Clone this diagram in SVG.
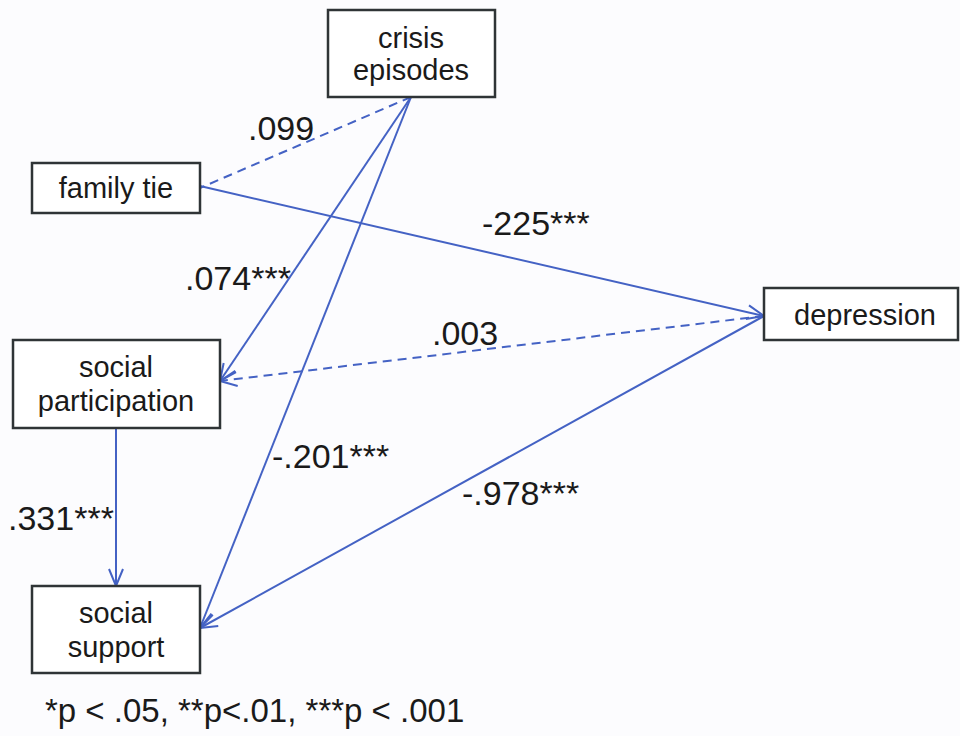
<svg xmlns="http://www.w3.org/2000/svg" width="960" height="736" viewBox="0 0 960 736">
<style>
.box{fill:#ffffff;stroke:#2f3436;stroke-width:2.5}
.nt{font-family:"Liberation Sans",Arial,sans-serif;font-size:29px;fill:#1a1a1a;text-anchor:middle}
.lb{font-family:"Liberation Sans",Arial,sans-serif;font-size:34px;fill:#1a1a1a}
.ln{stroke:#4462c4;stroke-width:2;fill:none}
.dash{stroke-dasharray:9 6}
</style>
<defs>
<marker id="arr" viewBox="0 0 20 20" refX="19" refY="10" markerWidth="20" markerHeight="20" markerUnits="userSpaceOnUse" orient="auto">
<path d="M2,3 L19,10 L2,17" fill="none" stroke="#4462c4" stroke-width="2"/>
</marker>
</defs>
<rect width="960" height="736" fill="#fcfcfe"/>
<g id="connectors">
<line class="ln dash" x1="411" y1="97" x2="200" y2="188"/>
<line class="ln" x1="411" y1="97" x2="220" y2="381" marker-end="url(#arr)"/>
<line class="ln" x1="411" y1="97" x2="200" y2="628" marker-end="url(#arr)"/>
<line class="ln" x1="200" y1="186" x2="764" y2="316" marker-end="url(#arr)"/>
<line class="ln dash" x1="764" y1="316" x2="220" y2="381" marker-end="url(#arr)"/>
<line class="ln" x1="764" y1="316" x2="200" y2="628" marker-end="url(#arr)"/>
<line class="ln" x1="116" y1="428" x2="116" y2="586" marker-end="url(#arr)"/>
</g>
<g id="crisis">
<rect class="box" x="328" y="10" width="167" height="87"/>
<text class="nt" x="411" y="48">crisis</text>
<text class="nt" x="411" y="80">episodes</text>
</g>
<g id="family">
<rect class="box" x="32" y="163" width="168" height="50"/>
<text class="nt" x="116" y="198">family tie</text>
</g>
<g id="participation">
<rect class="box" x="13" y="340" width="207" height="88"/>
<text class="nt" x="116" y="377">social</text>
<text class="nt" x="116" y="411">participation</text>
</g>
<g id="depression">
<rect class="box" x="764" y="288" width="194" height="52"/>
<text class="nt" x="865" y="325">depression</text>
</g>
<g id="support">
<rect class="box" x="32" y="586" width="168" height="87"/>
<text class="nt" x="116" y="623">social</text>
<text class="nt" x="116" y="657">support</text>
</g>
<g id="labels">
<text class="lb" x="248" y="140">.099</text>
<text class="lb" x="482" y="235">-225***</text>
<text class="lb" x="185" y="290">.074***</text>
<text class="lb" x="432" y="345">.003</text>
<text class="lb" x="272" y="468">-.201***</text>
<text class="lb" x="462" y="505">-.978***</text>
<text class="lb" x="8" y="530">.331***</text>
<text class="lb" x="45" y="722" style="font-size:33px">*p &lt; .05, **p&lt;.01, ***p &lt; .001</text>
</g>
</svg>
